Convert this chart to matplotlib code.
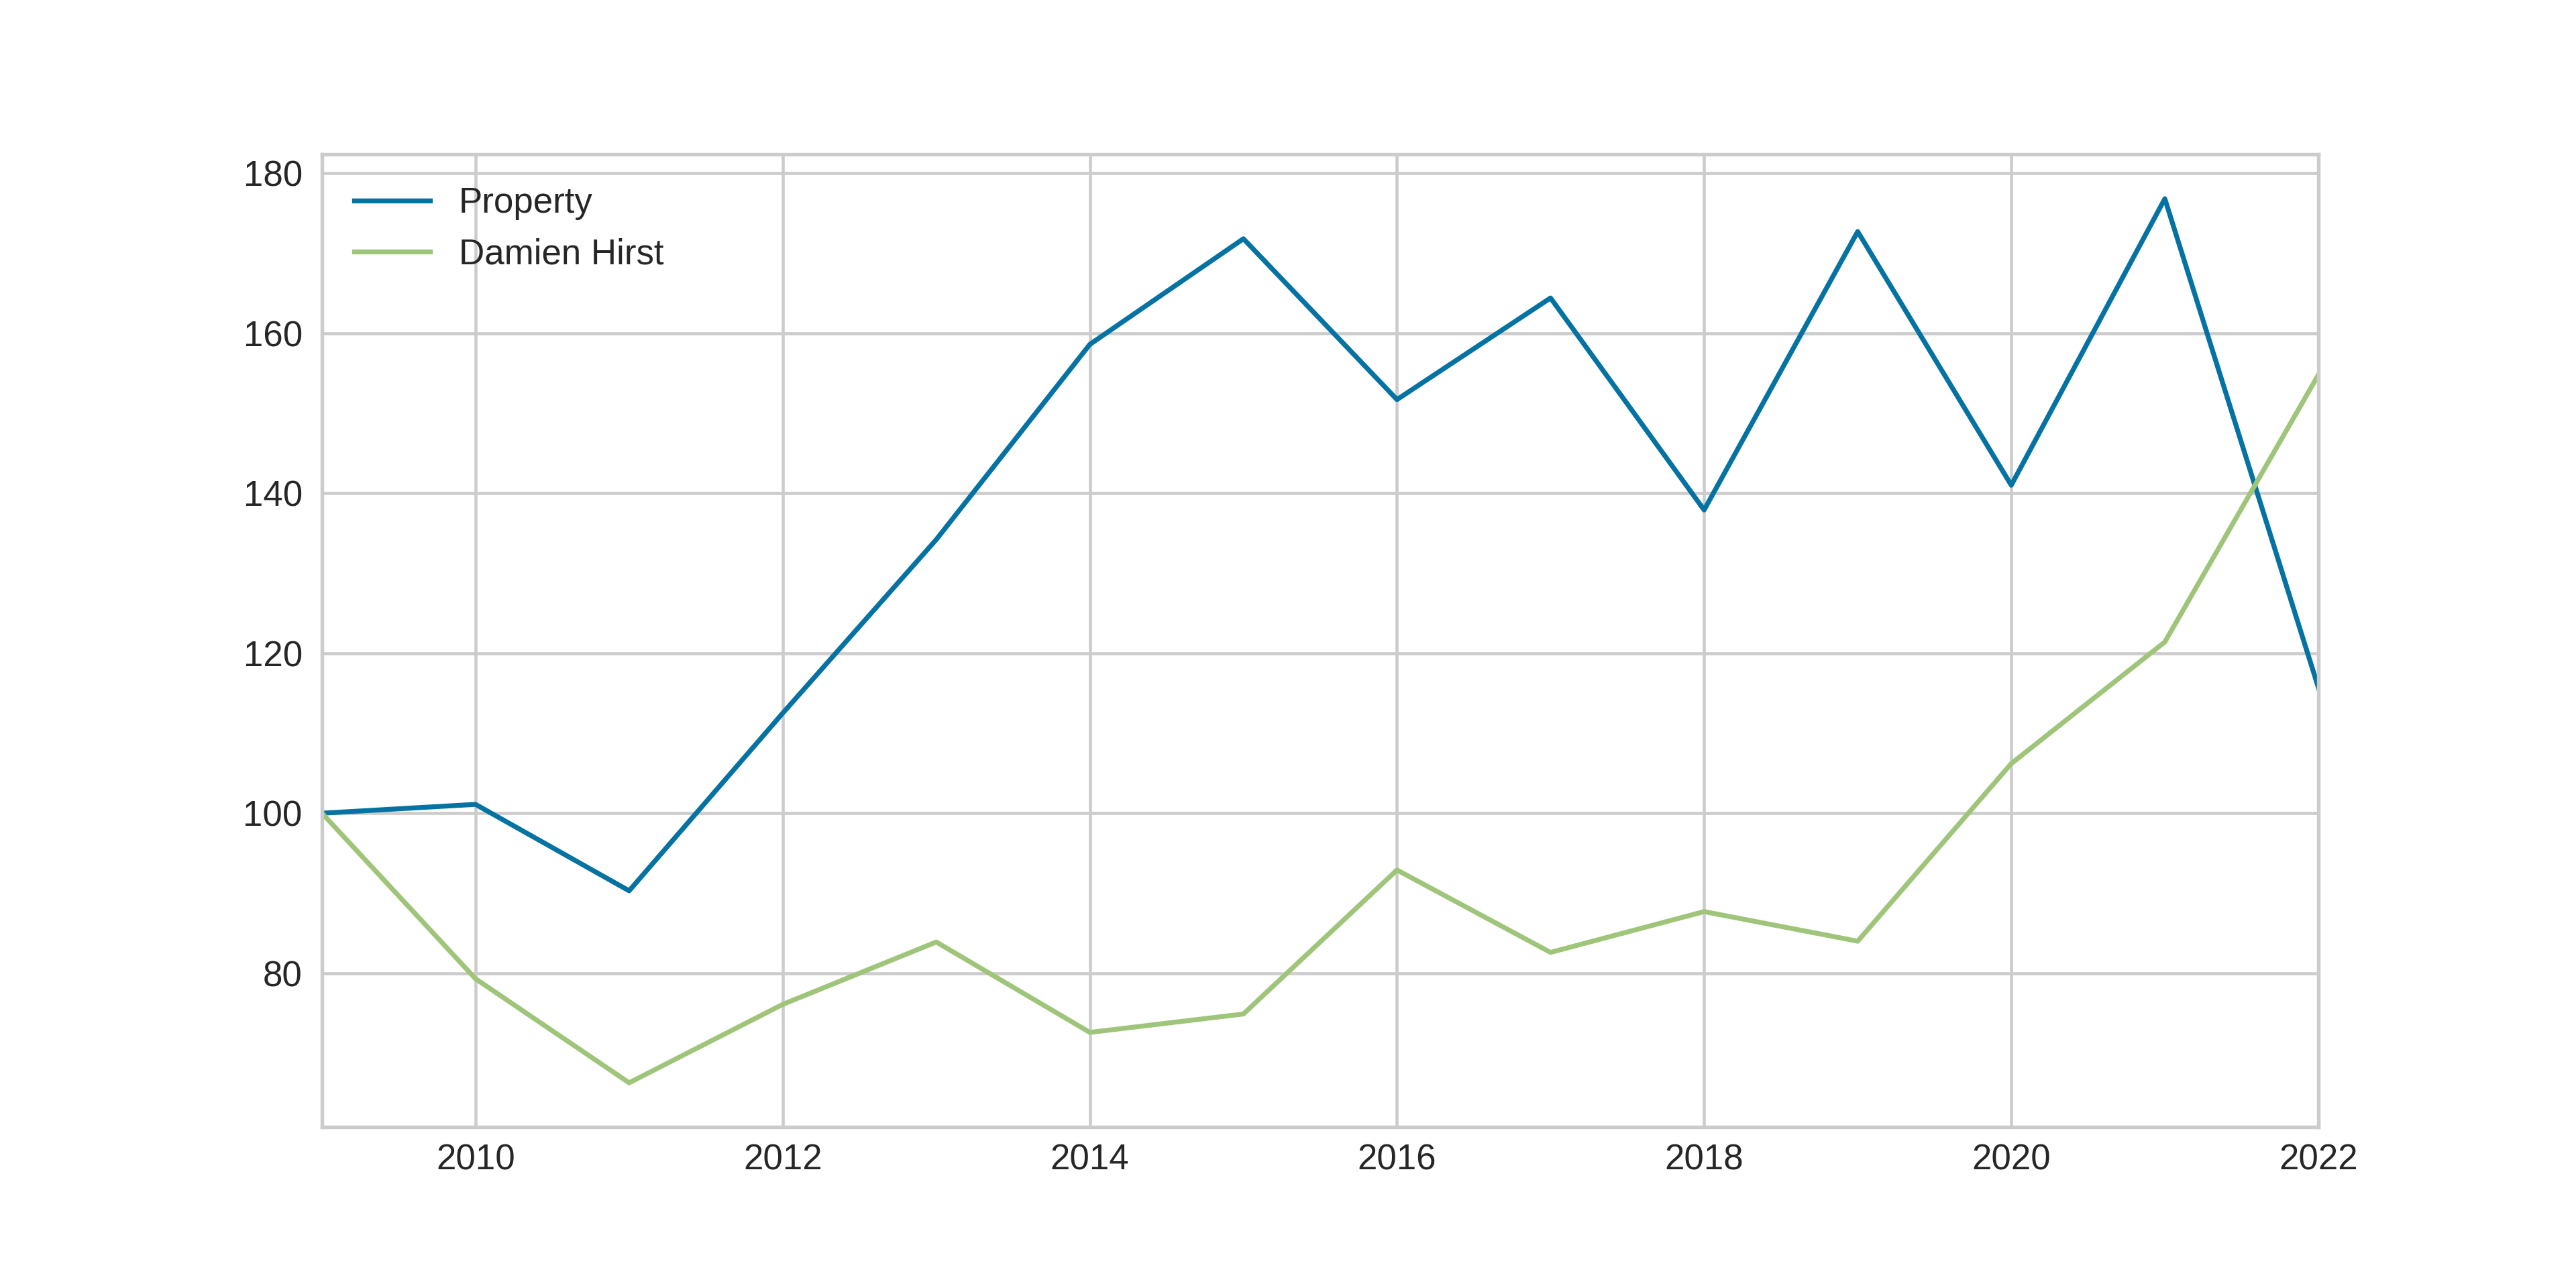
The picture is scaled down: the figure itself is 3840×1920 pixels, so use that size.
import matplotlib
matplotlib.use("Agg")
import matplotlib.pyplot as plt

# 数据：年份与两条指数序列（2009 = 100）
YEARS = list(range(2009, 2023))
PROPERTY = [100.0, 101.1, 90.3, 112.5, 134.2, 158.6, 171.8,
            151.7, 164.4, 137.9, 172.7, 141.0, 176.8, 115.7]
DAMIEN_HIRST = [100.0, 79.3, 66.3, 76.1, 83.9, 72.6, 74.9,
                92.9, 82.6, 87.7, 84.0, 106.2, 121.4, 154.8]
X_TICKS = list(range(2010, 2023, 2))

BLUE = "#0472a2"
GREEN = "#9fc57a"
GRID_COLOR = "#cccccc"
TEXT_COLOR = "#262626"

plt.rcParams["font.family"] = ["Liberation Sans", "DejaVu Sans"]
plt.rcParams["font.size"] = 12.7

fig = plt.figure(figsize=(12.8, 6.4), dpi=300)
ax = fig.add_axes([0.125, 0.125, 0.775, 0.755])

ax.plot(YEARS, PROPERTY, color=BLUE, linewidth=1.75, label="Property")
ax.plot(YEARS, DAMIEN_HIRST, color=GREEN, linewidth=1.75, label="Damien Hirst")

ax.set_xlim(YEARS[0], YEARS[-1])
ax.set_xticks(X_TICKS)
ax.set_xticklabels([str(y) for y in X_TICKS])

ax.grid(True, color=GRID_COLOR, linewidth=1.1)
ax.set_axisbelow(True)
for spine in ax.spines.values():
    spine.set_color(GRID_COLOR)
    spine.set_linewidth(1.3)

ax.tick_params(axis="both", length=0, colors=TEXT_COLOR, labelsize=12.7)
ax.tick_params(axis="x", pad=6)
ax.tick_params(axis="y", pad=7)

legend = ax.legend(loc="upper left", frameon=False, handlelength=2.15, fontsize=12.7)
for text in legend.get_texts():
    text.set_color(TEXT_COLOR)

fig.savefig("out.png", dpi=300, facecolor="white")
plt.close(fig)
